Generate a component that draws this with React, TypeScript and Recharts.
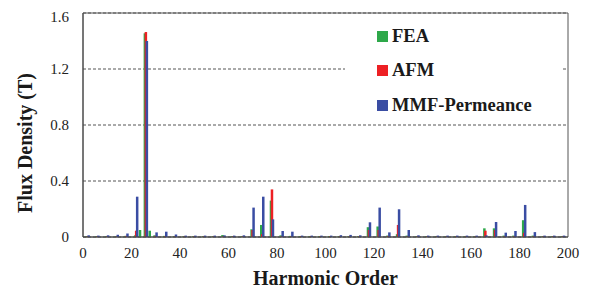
import React from 'react';
import { BarChart, Bar, XAxis, YAxis, CartesianGrid, Legend, ReferenceArea, Label } from 'recharts';

// harmonic orders (every 4th order starting at 2)
const harmonicOrders = [
  2, 6, 10, 14, 18, 22, 26, 30, 34, 38,
  42, 46, 50, 54, 58, 62, 66, 70, 74, 78,
  82, 86, 90, 94, 98, 102, 106, 110, 114, 118,
  122, 126, 130, 134, 138, 142, 146, 150, 154, 158,
  162, 166, 170, 174, 178, 182, 186, 190, 194, 198,
];

const feaValues = [
  0.006, 0.006, 0.006, 0.006, 0.008, 0.012, 1.455, 0.012, 0.008, 0.006,
  0.006, 0.006, 0.006, 0.006, 0.014, 0.006, 0.006, 0.055, 0.086, 0.26,
  0.012, 0.008, 0.006, 0.006, 0.006, 0.006, 0.006, 0.006, 0.006, 0.07,
  0.075, 0.01, 0.02, 0.01, 0.006, 0.006, 0.006, 0.006, 0.006, 0.006,
  0.006, 0.062, 0.062, 0.01, 0.01, 0.12, 0.01, 0.006, 0.006, 0.006,
];

const afmValues = [
  0.005, 0.005, 0.005, 0.005, 0.008, 0.045, 1.464, 0.008, 0.006, 0.005,
  0.005, 0.005, 0.005, 0.005, 0.005, 0.005, 0.005, 0.05, 0.02, 0.34,
  0.006, 0.005, 0.005, 0.005, 0.005, 0.005, 0.005, 0.005, 0.005, 0.05,
  0.05, 0.008, 0.086, 0.006, 0.005, 0.005, 0.005, 0.005, 0.005, 0.005,
  0.005, 0.045, 0.05, 0.006, 0.006, 0.03, 0.006, 0.005, 0.005, 0.005,
];

const mmfValues = [
  0.012, 0.01, 0.012, 0.016, 0.025, 0.288, 1.4, 0.033, 0.038, 0.018,
  0.01, 0.01, 0.01, 0.01, 0.012, 0.01, 0.012, 0.21, 0.288, 0.126,
  0.043, 0.038, 0.01, 0.01, 0.01, 0.01, 0.013, 0.015, 0.012, 0.105,
  0.21, 0.033, 0.198, 0.05, 0.012, 0.01, 0.01, 0.01, 0.01, 0.01,
  0.01, 0.012, 0.107, 0.031, 0.043, 0.229, 0.035, 0.01, 0.01, 0.01,
];

// small FEA side components next to the main peak
const feaExtraOrders = [24, 28];
const feaExtraValues = [0.05, 0.045];

const xTicks = [0, 20, 40, 60, 80, 100, 120, 140, 160, 180, 200];
const yTicks = [0, 0.4, 0.8, 1.2, 1.6];

const COLORS = { fea: '#2ea84a', afm: '#ed2024', mmf: '#3a4da3' };
const SERIF = "'Liberation Serif', 'DejaVu Serif', serif";

const data = harmonicOrders
  .map((h, i) => ({ h, fea: feaValues[i], afm: afmValues[i], mmf: mmfValues[i] }))
  .concat(feaExtraOrders.map((h, i) => ({ h, fea: feaExtraValues[i] } as any)))
  .sort((a, b) => a.h - b.h);

const legendItems = [
  { label: 'FEA', color: COLORS.fea },
  { label: 'AFM', color: COLORS.afm },
  { label: 'MMF-Permeance', color: COLORS.mmf },
];

const LegendBox = () => (
  <div style={{ background: '#fff', paddingLeft: 32, fontFamily: SERIF, fontWeight: 700, fontSize: 18.5, color: '#1a1a1a' }}>
    {legendItems.map((it) => (
      <div key={it.label} style={{ display: 'flex', alignItems: 'center', height: 34.5 }}>
        <span style={{ display: 'inline-block', width: 11, height: 11, background: it.color, marginRight: 4 }} />
        {it.label}
      </div>
    ))}
  </div>
);

const tickStyle = { fill: '#222', fontSize: 15, style: { fontFamily: SERIF } };

const App: React.FC = () => (
  <BarChart
    width={595}
    height={283}
    data={data}
    margin={{ top: 5, right: 35, left: 0, bottom: 0 }}
    barGap={-1.5}
    style={{ fontFamily: SERIF }}
  >
    <CartesianGrid vertical={false} stroke="#555" strokeDasharray="3 2" />
    <XAxis
      dataKey="h"
      type="number"
      domain={[0, 200]}
      ticks={xTicks}
      height={54}
      tickSize={0}
      tickMargin={10}
      tick={tickStyle}
      axisLine={{ stroke: '#444' }}
    >
      <Label
        content={({ viewBox }: any) => (
          <text
            x={viewBox.x + viewBox.width / 2}
            y={viewBox.y + 48}
            textAnchor="middle"
            style={{ fontFamily: SERIF }}
            fontWeight={700}
            fontSize={20}
            fill="#1a1a1a"
          >
            Harmonic Order
          </text>
        )}
      />
    </XAxis>
    <YAxis
      domain={[0, 1.6]}
      ticks={yTicks}
      width={75}
      tickSize={0}
      tickMargin={14}
      tick={tickStyle}
      tickFormatter={(v: number) => String(v)}
      axisLine={{ stroke: '#444' }}
    >
      <Label
        content={({ viewBox }: any) => {
          const cx = 17;
          const cy = viewBox.y + viewBox.height / 2 + 18;
          return (
            <text
              x={cx}
              y={cy}
              transform={`rotate(-90 ${cx} ${cy})`}
              textAnchor="middle"
              dominantBaseline="central"
              style={{ fontFamily: SERIF }}
              fontWeight={700}
              fontSize={20}
              fill="#1a1a1a"
            >
              Flux Density (T)
            </text>
          );
        }}
      />
    </YAxis>
    <ReferenceArea x1={0} x2={200} y1={0} y2={1.6} fill="none" stroke="#555" strokeOpacity={1} fillOpacity={0} />
    <Legend
      layout="vertical"
      align="center"
      verticalAlign="middle"
      content={() => <LegendBox />}
      wrapperStyle={{ left: 337, top: 11, width: 218, height: 104 }}
    />
    <Bar dataKey="fea" name="FEA" fill={COLORS.fea} barSize={2.5} isAnimationActive={false} />
    <Bar dataKey="afm" name="AFM" fill={COLORS.afm} barSize={2.5} isAnimationActive={false} />
    <Bar dataKey="mmf" name="MMF-Permeance" fill={COLORS.mmf} barSize={2.5} isAnimationActive={false} />
  </BarChart>
);

export default App;
